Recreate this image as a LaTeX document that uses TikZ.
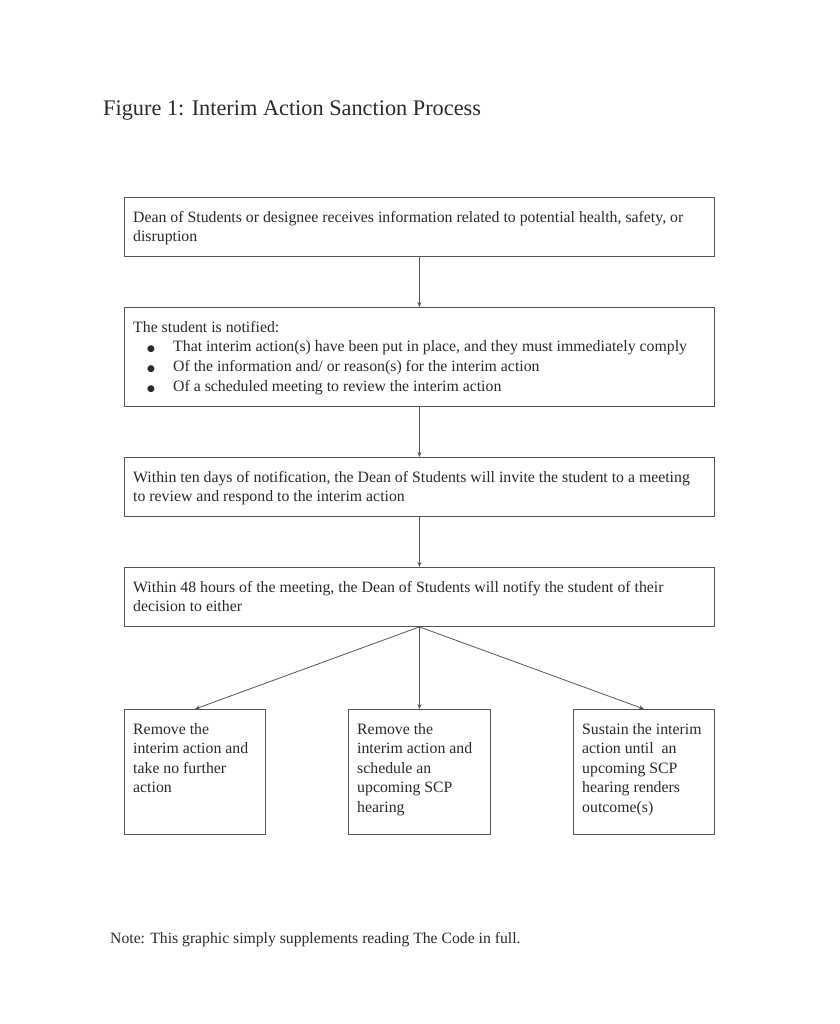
\documentclass[tikz,border=0pt]{standalone}
\usepackage{fontspec}
\setmainfont{Liberation Serif}
\newfontfamily\bulletfont{DejaVu Sans}
\usetikzlibrary{arrows.meta}
\definecolor{inkgray}{HTML}{2B2B2B}
\definecolor{linegray}{HTML}{555555}
\begin{document}
\begin{tikzpicture}[x=1pt,y=-1pt,
  box/.style={draw=linegray, line width=0.9pt, inner sep=0pt, anchor=north west},
  boxtext/.style={anchor=north west, inner sep=0pt, align=left, text=inkgray,
    font=\fontsize{15.8}{19.6}\selectfont},
  conn/.style={draw=linegray, line width=0.8pt, -{Stealth[length=5pt,width=4pt]}}]
\useasboundingbox (0,0) rectangle (839,1024);
\fill[white] (0,0) rectangle (839,1024);

\node[anchor=base west, inner sep=0pt, text=inkgray, font=\fontsize{22.3}{26}\selectfont] (title) at (103,116) {Figure 1: Interim Action Sanction Process};

\node[box, minimum width=590pt, minimum height=59pt] (b1) at (124,197) {};
\node[boxtext] (t1) at (133,211) {Dean of Students or designee receives information related to potential health, safety, or\\disruption};

\node[box, minimum width=590pt, minimum height=99pt] (b2) at (124,307) {};
\node[boxtext] (t2) at (133,321) {The student is notified:\\
\makebox[14pt][l]{}\makebox[26pt][l]{\bulletfont\fontsize{9}{9}\selectfont ●}That interim action(s) have been put in place, and they must immediately comply\\
\makebox[14pt][l]{}\makebox[26pt][l]{\bulletfont\fontsize{9}{9}\selectfont ●}Of the information and/ or reason(s) for the interim action\\
\makebox[14pt][l]{}\makebox[26pt][l]{\bulletfont\fontsize{9}{9}\selectfont ●}Of a scheduled meeting to review the interim action};

\node[box, minimum width=590pt, minimum height=59pt] (b3) at (124,457) {};
\node[boxtext] (t3) at (133,471) {Within ten days of notification, the Dean of Students will invite the student to a meeting\\to review and respond to the interim action};

\node[box, minimum width=590pt, minimum height=59pt] (b4) at (124,567) {};
\node[boxtext] (t4) at (133,581) {Within 48 hours of the meeting, the Dean of Students will notify the student of their\\decision to either};

\node[box, minimum width=141pt, minimum height=125pt] (b5) at (124,709) {};
\node[boxtext] (t5) at (133,723) {Remove the\\interim action and\\take no further\\action};

\node[box, minimum width=142pt, minimum height=125pt] (b6) at (348,709) {};
\node[boxtext] (t6) at (357,723) {Remove the\\interim action and\\schedule an\\upcoming SCP\\hearing};

\node[box, minimum width=141pt, minimum height=125pt] (b7) at (573,709) {};
\node[boxtext] (t7) at (582,723) {Sustain the interim\\action until~ an\\upcoming SCP\\hearing renders\\outcome(s)};

\node[anchor=base west, inner sep=0pt, text=inkgray, font=\fontsize{15.7}{18}\selectfont] (note) at (110,943) {Note: This graphic simply supplements reading The Code in full.};

\draw[conn] (b1.south) -- (b2.north);
\draw[conn] (b2.south) -- (b3.north);
\draw[conn] (b3.south) -- (b4.north);
\draw[conn] (b4.south) -- (b5.north);
\draw[conn] (b4.south) -- (b6.north);
\draw[conn] (b4.south) -- (b7.north);
\end{tikzpicture}
\end{document}
